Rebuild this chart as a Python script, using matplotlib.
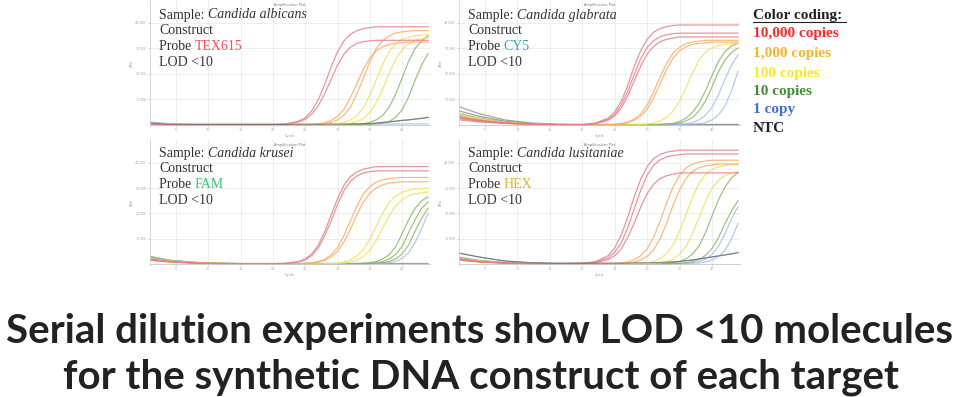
import matplotlib
matplotlib.use("Agg")
import matplotlib.pyplot as plt
from matplotlib.lines import Line2D

# cycle grid shared by all amplification curves
cycles = [1, 4, 8, 12, 16, 20, 22, 24, 25, 26, 27, 28, 29, 30, 31, 32, 33, 34,
          35, 36, 37, 38, 39, 40, 41, 42, 43, 44]

# ---- Candida albicans (TEX615) ----
albicans_red = [
    [.02, 0, 0, 0, 0, 0, .04, .15, .28, .55, .98, 1.58, 2.27, 2.87, 3.30, 3.56, 3.70, 3.78, 3.82, 3.85, 3.85, 3.85, 3.85, 3.85, 3.85, 3.85, 3.85, 3.85],
    [.02, 0, 0, 0, 0, 0, .03, .12, .22, .42, .75, 1.22, 1.78, 2.35, 2.78, 3.05, 3.20, 3.27, 3.30, 3.32, 3.32, 3.32, 3.32, 3.32, 3.32, 3.32, 3.32, 3.32],
]
albicans_orange = [
    [.02, 0, 0, 0, 0, 0, 0, 0, .01, .02, .05, .09, .18, .34, .62, 1.07, 1.63, 2.18, 2.63, 2.91, 3.07, 3.16, 3.20, 3.23, 3.25, 3.25, 3.25, 3.25],
    [.02, 0, 0, 0, 0, 0, 0, 0, 0, .01, .02, .05, .10, .20, .39, .70, 1.22, 1.85, 2.48, 3.00, 3.31, 3.50, 3.60, 3.65, 3.68, 3.70, 3.70, 3.70],
]
albicans_yellow = [
    [.02, 0, 0, 0, 0, 0, 0, 0, 0, 0, 0, .01, .03, .05, .10, .19, .37, .67, 1.17, 1.78, 2.38, 2.88, 3.18, 3.36, 3.45, 3.50, 3.53, 3.55],
    [.02, 0, 0, 0, 0, 0, 0, 0, 0, 0, 0, 0, .01, .02, .04, .07, .13, .26, .49, .88, 1.41, 2.04, 2.57, 2.96, 3.19, 3.32, 3.39, 3.42],
]
albicans_green = [
    [.02, 0, 0, 0, 0, 0, 0, 0, 0, 0, 0, 0, 0, 0, .01, .02, .03, .05, .10, .20, .38, .70, 1.22, 1.85, 2.50, 3.00, 3.30, 3.50],
    [.02, 0, 0, 0, 0, 0, 0, 0, 0, 0, 0, 0, 0, 0, 0, 0, .01, .02, .03, .05, .07, .14, .30, .60, 1.10, 1.75, 2.35, 2.80],
]
albicans_blue = [
    [.12, .05, .04, .04, .04, .04, .04, .04, .04, .04, .04, .04, .04, .04, .04, .04, .04, .04, .04, .04, .04, .04, .04, .04, .04, .04, .04, .04],
]
albicans_ntc = [
    [.08, .03, .02, .02, .02, .02, .02, .02, .02, .02, .02, .02, .03, .03, .03, .04, .04, .05, .05, .07, .10, .12, .15, .18, .20, .23, .26, .30],
]

# ---- Candida glabrata (CY5) ----
glabrata_red = [
    [.30, .18, .08, .03, .01, .02, .07, .27, .52, .93, 1.55, 2.30, 2.92, 3.36, 3.64, 3.78, 3.86, 3.90, 3.92, 3.92, 3.92, 3.92, 3.92, 3.92, 3.92, 3.92, 3.92, 3.92],
    [.25, .15, .07, .03, .01, .01, .06, .22, .42, .78, 1.32, 1.98, 2.60, 3.04, 3.31, 3.46, 3.54, 3.58, 3.60, 3.60, 3.60, 3.60, 3.60, 3.60, 3.60, 3.60, 3.60, 3.60],
    [.20, .12, .06, .02, .01, .01, .05, .19, .36, .66, 1.14, 1.73, 2.31, 2.79, 3.09, 3.27, 3.36, 3.41, 3.45, 3.45, 3.45, 3.45, 3.45, 3.45, 3.45, 3.45, 3.45, 3.45],
]
glabrata_orange = [
    [.35, .20, .08, .03, .01, 0, 0, .01, .03, .06, .12, .23, .43, .79, 1.30, 1.89, 2.42, 2.82, 3.05, 3.19, 3.25, 3.29, 3.32, 3.32, 3.32, 3.32, 3.32, 3.32],
    [.30, .18, .07, .03, .01, 0, 0, 0, .01, .04, .09, .18, .34, .62, 1.07, 1.63, 2.18, 2.63, 2.91, 3.07, 3.16, 3.20, 3.22, 3.25, 3.25, 3.25, 3.25, 3.25],
]
glabrata_yellow = [
    [.40, .25, .10, .04, .01, 0, 0, 0, 0, 0, 0, .01, .02, .04, .08, .16, .30, .55, .94, 1.47, 2.06, 2.55, 2.86, 3.03, 3.12, 3.16, 3.18, 3.20],
]
glabrata_green = [
    [.45, .28, .12, .05, .02, .01, .01, 0, 0, 0, 0, 0, 0, .01, .01, .02, .04, .06, .14, .27, .50, .85, 1.35, 1.95, 2.50, 2.88, 3.10, 3.20],
    [.38, .22, .10, .04, .02, .01, .01, 0, 0, 0, 0, 0, 0, 0, .01, .02, .03, .04, .08, .16, .30, .55, .95, 1.50, 2.10, 2.55, 2.85, 3.02],
]
glabrata_blue = [
    [.32, .20, .09, .04, .02, .01, .01, 0, 0, 0, 0, 0, 0, 0, 0, .01, .02, .03, .04, .05, .10, .20, .38, .70, 1.20, 1.80, 2.35, 2.75],
    [.28, .17, .08, .03, .01, .01, .01, 0, 0, 0, 0, 0, 0, 0, 0, 0, 0, .01, .02, .03, .04, .05, .10, .20, .40, .75, 1.35, 2.10],
]
glabrata_ntc = [
    [.72, .45, .20, .08, .03, .02, .02, .02, .02, .02, .02, .02, .02, .02, .02, .02, .02, .02, .02, .02, .02, .02, .02, .02, .02, .02, .02, .02],
    [.55, .35, .15, .06, .02, .01, .01, .01, .01, .01, .01, .01, .01, .01, .01, .01, .01, .01, .01, .01, .01, .01, .01, .01, .01, .01, .01, .01],
]

# ---- Candida krusei (FAM) ----
krusei_red = [
    [.20, .10, .04, .02, .01, .01, .03, .10, .20, .40, .73, 1.27, 1.93, 2.58, 3.12, 3.45, 3.64, 3.75, 3.80, 3.85, 3.85, 3.85, 3.85, 3.85, 3.85, 3.85, 3.85, 3.85],
    [.15, .08, .03, .01, 0, 0, .02, .08, .16, .33, .62, 1.10, 1.70, 2.35, 2.90, 3.27, 3.48, 3.60, 3.65, 3.68, 3.68, 3.68, 3.68, 3.68, 3.68, 3.68, 3.68, 3.68],
]
krusei_orange = [
    [.18, .10, .04, .02, .01, 0, 0, .01, .03, .05, .10, .18, .36, .65, 1.13, 1.71, 2.29, 2.77, 3.06, 3.24, 3.33, 3.37, 3.40, 3.42, 3.42, 3.42, 3.42, 3.42],
    [.15, .08, .03, .01, 0, 0, 0, 0, .02, .04, .07, .14, .27, .50, .88, 1.38, 1.96, 2.45, 2.80, 3.00, 3.13, 3.20, 3.23, 3.25, 3.25, 3.25, 3.25, 3.25],
]
krusei_yellow = [
    [.22, .12, .05, .02, .01, 0, 0, 0, 0, 0, 0, .01, .02, .04, .08, .16, .32, .57, .99, 1.50, 2.01, 2.43, 2.69, 2.84, 2.92, 2.96, 2.98, 3.00],
    [.18, .10, .04, .02, .01, 0, 0, 0, 0, 0, 0, 0, .01, .02, .04, .08, .15, .30, .54, .94, 1.43, 1.91, 2.31, 2.55, 2.70, 2.77, 2.81, 2.85],
]
krusei_green = [
    [.25, .14, .06, .02, .01, 0, 0, 0, 0, 0, 0, 0, 0, 0, 0, .01, .02, .03, .05, .10, .20, .37, .68, 1.20, 1.75, 2.20, 2.50, 2.65],
    [.22, .12, .05, .02, .01, 0, 0, 0, 0, 0, 0, 0, 0, 0, 0, 0, .01, .02, .03, .05, .10, .20, .38, .70, 1.25, 1.75, 2.20, 2.45],
    [.20, .10, .04, .02, .01, 0, 0, 0, 0, 0, 0, 0, 0, 0, 0, 0, 0, .01, .02, .03, .05, .10, .20, .40, .75, 1.30, 1.80, 2.20],
]
krusei_blue = [
    [.28, .15, .06, .02, .01, 0, 0, 0, 0, 0, 0, 0, 0, 0, 0, 0, 0, 0, .01, .02, .03, .05, .10, .22, .45, .85, 1.40, 2.00],
]
krusei_ntc = [
    [.30, .15, .06, .03, .02, .02, .02, .02, .02, .02, .02, .02, .02, .02, .02, .02, .02, .02, .02, .02, .02, .02, .02, .02, .02, .02, .02, .02],
]

# ---- Candida lusitaniae (HEX) ----
lusitaniae_red = [
    [.20, .10, .04, .02, .01, .03, .09, .33, .64, 1.15, 1.85, 2.66, 3.35, 3.86, 4.17, 4.33, 4.42, 4.46, 4.50, 4.50, 4.50, 4.50, 4.50, 4.50, 4.50, 4.50, 4.50, 4.50],
    [.18, .09, .04, .02, .01, .02, .07, .24, .47, .83, 1.44, 2.18, 2.91, 3.52, 3.90, 4.12, 4.23, 4.29, 4.32, 4.35, 4.35, 4.35, 4.35, 4.35, 4.35, 4.35, 4.35, 4.35],
    [.15, .08, .03, .01, .01, .02, .05, .17, .33, .60, 1.05, 1.62, 2.25, 2.79, 3.16, 3.38, 3.49, 3.55, 3.60, 3.60, 3.60, 3.60, 3.60, 3.60, 3.60, 3.60, 3.60, 3.60],
]
lusitaniae_orange = [
    [.20, .10, .04, .02, .01, 0, .01, .01, .02, .04, .08, .17, .33, .60, 1.06, 1.70, 2.42, 3.05, 3.51, 3.80, 3.95, 4.03, 4.07, 4.10, 4.10, 4.10, 4.10, 4.10],
    [.18, .09, .04, .02, .01, 0, 0, 0, .01, .02, .04, .08, .16, .30, .56, 1.00, 1.62, 2.33, 2.94, 3.39, 3.66, 3.80, 3.88, 3.92, 3.95, 3.95, 3.95, 3.95],
]
lusitaniae_yellow = [
    [.22, .12, .05, .02, .01, 0, 0, 0, 0, 0, .01, .02, .03, .05, .10, .21, .41, .75, 1.30, 1.98, 2.65, 3.20, 3.54, 3.74, 3.84, 3.89, 3.92, 3.93],
    [.20, .10, .04, .02, .01, 0, 0, 0, 0, 0, 0, 0, .01, .02, .03, .05, .10, .20, .39, .70, 1.22, 1.85, 2.48, 3.00, 3.31, 3.50, 3.60, 3.65],
]
lusitaniae_green = [
    [.25, .13, .05, .02, .01, 0, 0, 0, 0, 0, 0, 0, 0, 0, .01, .02, .03, .05, .10, .20, .40, .72, 1.25, 1.90, 2.55, 3.05, 3.40, 3.62],
    [.22, .12, .05, .02, .01, 0, 0, 0, 0, 0, 0, 0, 0, 0, 0, 0, .01, .02, .03, .05, .10, .18, .34, .62, 1.05, 1.60, 2.10, 2.50],
]
lusitaniae_blue = [
    [.28, .15, .06, .02, .01, 0, 0, 0, 0, 0, 0, 0, 0, 0, 0, 0, 0, .01, .02, .03, .05, .10, .20, .38, .70, 1.20, 1.80, 2.25],
    [.25, .13, .05, .02, .01, 0, 0, 0, 0, 0, 0, 0, 0, 0, 0, 0, 0, 0, .01, .02, .03, .04, .08, .15, .30, .55, 1.00, 1.60],
]
lusitaniae_ntc = [
    [.43, .28, .12, .05, .03, .03, .03, .03, .03, .03, .03, .04, .04, .05, .05, .06, .07, .08, .10, .13, .16, .20, .24, .28, .32, .36, .40, .45],
]

species = ["albicans", "glabrata", "krusei", "lusitaniae"]
probes = ["TEX615", "CY5", "FAM", "HEX"]
lod_text = "LOD <10"
legend_labels = ["10,000 copies", "1,000 copies", "100 copies", "10 copies", "1 copy", "NTC"]
caption = ["Serial dilution experiments show LOD <10 molecules",
           "for the synthetic DNA construct of each target"]

panel_data = [
    [albicans_ntc, albicans_blue, albicans_green, albicans_yellow, albicans_orange, albicans_red],
    [glabrata_ntc, glabrata_blue, glabrata_green, glabrata_yellow, glabrata_orange, glabrata_red],
    [krusei_ntc, krusei_blue, krusei_green, krusei_yellow, krusei_orange, krusei_red],
    [lusitaniae_ntc, lusitaniae_blue, lusitaniae_green, lusitaniae_yellow, lusitaniae_orange, lusitaniae_red],
]

curve_colors = ["#8c8c8c", "#9cbfee", "#86b468", "#f3df55", "#f7aa62", "#e27b86"]
probe_colors = ["#f0505a", "#3aa0c8", "#3cc07a", "#d8b830"]
legend_colors = ["#ff2a2a", "#f5b52a", "#ffe81a", "#3f8f2f", "#3f6fcf", "#222222"]

W, H = 960, 397
fig = plt.figure(figsize=(9.6, 3.97), dpi=100)
fig.patch.set_facecolor("white")

# panel boxes in pixels: left, top, right, bottom
boxes = [(150, 0, 430, 126), (459, 0, 740, 126), (150, 140, 430, 265), (459, 140, 740, 265)]
text_origin = [(159, 15), (468, 15), (159, 153), (468, 153)]
serif = "Liberation Serif"

for i, (l, t, r, b) in enumerate(boxes):
    ax = fig.add_axes([l / W, 1 - b / H, (r - l) / W, (b - t) / H])
    for j, group in enumerate(panel_data[i]):
        for curve in group:
            ax.plot(cycles, curve, color=curve_colors[j], lw=0.9, alpha=0.8)
    if i in (0, 3):
        # dark baseline trace
        ax.plot(cycles, panel_data[i][0][0], color="#4a5570", lw=0.8, alpha=0.5)
    ax.set_xlim(1, 44.3)
    ax.set_ylim(-0.04, 4.9)
    ax.set_xticks(range(5, 45, 5))
    ax.set_yticks([1, 2, 3, 4])
    ax.set_yticklabels(["10000", "20000", "30000", "40000"])
    ax.tick_params(labelsize=2.5, colors="#aaaaaa", length=1.5, width=0.4, pad=1)
    ax.grid(color="#ebebeb", lw=0.6)
    ax.set_axisbelow(True)
    for s in ("top", "right"):
        ax.spines[s].set_visible(False)
    ax.spines["left"].set_color("#d0d0d0")
    ax.spines["bottom"].set_color("#c8c8c8")
    ax.spines["bottom"].set_position(("data", 0))
    ax.spines["left"].set_linewidth(0.6)
    ax.spines["bottom"].set_linewidth(0.6)
    ax.text(0.5, 0.96, "Amplification Plot", transform=ax.transAxes, fontsize=2.5,
            ha="center", va="center", color="#777777")
    ax.set_xlabel("Cycle", fontsize=2.5, color="#999999", labelpad=1)
    ax.set_ylabel("ΔRn", fontsize=2.5, color="#999999", labelpad=1)

    x0, y0 = text_origin[i]
    kw = dict(fontsize=10, family=serif, color="#333333", va="center", ha="left")
    t1 = fig.text(x0 / W, 1 - y0 / H, "Sample: ", **kw)
    plt.annotate("Candida " + species[i], xy=(1, 0), xycoords=t1, va="bottom", ha="left",
                 fontsize=10, family=serif, style="italic", color="#333333")
    fig.text(x0 / W, 1 - (y0 + 16) / H, "Construct", **kw)
    t3 = fig.text(x0 / W, 1 - (y0 + 32) / H, "Probe ", **kw)
    plt.annotate(probes[i], xy=(1, 0), xycoords=t3, va="bottom", ha="left",
                 fontsize=10, family=serif, color=probe_colors[i])
    fig.text(x0 / W, 1 - (y0 + 48) / H, lod_text, **kw)

# colour legend
leg_y = [34, 53, 73, 92, 110, 128]
fig.text(753 / W, 1 - 15 / H, "Color coding:", fontsize=11, family=serif,
         fontweight="bold", color="#222222", va="center", ha="left")
fig.add_artist(Line2D([753 / W, 846 / W], [1 - 22 / H, 1 - 22 / H], color="#222222", lw=0.8))
for lab, col, y in zip(legend_labels, legend_colors, leg_y):
    fig.text(753 / W, 1 - y / H, lab, fontsize=11, family=serif, fontweight="bold",
             color=col, va="center", ha="left")

# caption
fig.text(479 / W, 1 - 343 / H, caption[0], fontsize=29, family="Lato", fontweight="bold",
         color="#222222", ha="center", va="baseline")
fig.text(481 / W, 1 - 388 / H, caption[1], fontsize=29, family="Lato", fontweight="bold",
         color="#222222", ha="center", va="baseline")

fig.savefig("out.png", dpi=100, facecolor="white")
